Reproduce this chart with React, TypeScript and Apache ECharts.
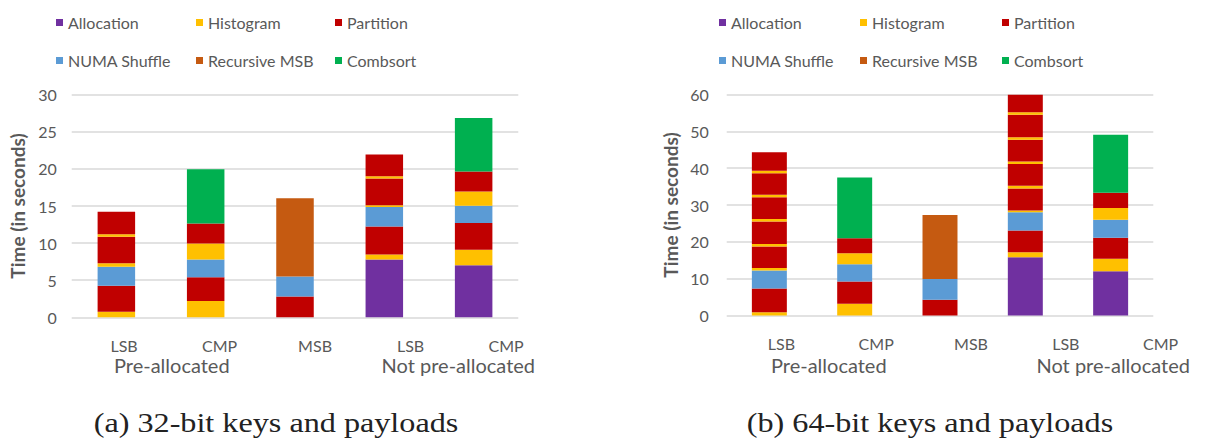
import React, { useEffect, useRef } from "react";
import * as echarts from "echarts";

// Categories and group captions shared by both panels
const categories = ["LSB", "CMP", "MSB", "LSB", "CMP"];
const groups = ["Pre-allocated", "Not pre-allocated"];
const captions = ["(a) 32-bit keys and payloads", "(b) 64-bit keys and payloads"];
const phaseNames = ["Allocation", "Histogram", "Partition", "NUMA Shuffle", "Recursive MSB", "Combsort"];
const yTitle = "Time (in seconds)";

// 32-bit keys and payloads (seconds); histogram/partition arrays are one row per pass
const alloc32 = [0, 0, 0, 7.8, 7.0];
const numa32 = [2.55, 2.4, 2.7, 2.6, 2.33];
const histogram32 = [
  [0.75, 2.2, 0, 0.65, 2.1],
  [0.5, 2.15, 0, 0.25, 1.93],
  [0.35, 0, 0, 0.3, 0],
];
const partition32 = [
  [3.5, 3.2, 2.8, 3.8, 3.6],
  [3.55, 2.7, 0, 3.6, 2.7],
  [3.03, 0, 0, 2.95, 0],
];
const recursive32 = [0, 0, 10.55, 0, 0];
const combsort32 = [0, 7.3, 0, 0, 7.2];

// 64-bit keys and payloads (seconds)
const alloc64 = [0, 0, 0, 15.8, 12.0];
const numa64 = [4.9, 4.7, 5.6, 4.9, 4.9];
const histogram64 = [
  [0.9, 3.2, 0, 1.4, 3.4],
  [0.7, 3.0, 0, 0.5, 3.2],
  [0.7, 0, 0, 0.7, 0],
  [0.7, 0, 0, 0.7, 0],
  [0.7, 0, 0, 0.7, 0],
  [0.7, 0, 0, 0.7, 0],
];
const partition64 = [
  [6.4, 6.0, 4.3, 5.9, 5.7],
  [5.8, 4.1, 0, 6.0, 4.1],
  [6.1, 0, 0, 5.9, 0],
  [5.9, 0, 0, 5.9, 0],
  [5.8, 0, 0, 6.1, 0],
  [5.0, 0, 0, 4.7, 0],
];
const recursive64 = [0, 0, 17.4, 0, 0];
const combsort64 = [0, 16.5, 0, 0, 15.8];

const yTicks32 = { min: 0, max: 30, interval: 5 };
const yTicks64 = { min: 0, max: 60, interval: 10 };

const COLORS: Record<string, string> = {
  Allocation: "#7030A0",
  Histogram: "#FFC000",
  Partition: "#C00000",
  "NUMA Shuffle": "#5B9BD5",
  "Recursive MSB": "#C55A11",
  Combsort: "#00B050",
};

const TEXT = "#595959";
const FONT = 'Lato, "Open Sans", sans-serif';

// Stack order from bottom to top
function buildLayers(
  alloc: number[],
  hist: number[][],
  part: number[][],
  numa: number[],
  rec: number[],
  comb: number[]
) {
  const out: { name: string; data: number[] }[] = [];
  out.push({ name: "Allocation", data: alloc });
  out.push({ name: "Histogram", data: hist[0] });
  out.push({ name: "Partition", data: part[0] });
  out.push({ name: "NUMA Shuffle", data: numa });
  for (let i = 1; i < hist.length; i++) {
    out.push({ name: "Histogram", data: hist[i] });
    out.push({ name: "Partition", data: part[i] });
  }
  out.push({ name: "Recursive MSB", data: rec });
  out.push({ name: "Combsort", data: comb });
  return out;
}

// Panel geometry
const panels = [
  {
    grid: { left: 71.7, width: 446.6, top: 94.7, height: 222.6 },
    labelGrid: { left: 76.3, width: 477.5 },
    legendLeft: [56, 196, 335],
    titleX: 17.5,
    captionX: 276,
    tickMargin: 15,
    barWidth: "42%",
    ticks: yTicks32,
    layers: buildLayers(alloc32, histogram32, partition32, numa32, recursive32, combsort32),
  },
  {
    grid: { left: 726.7, width: 426.6, top: 94.5, height: 221 },
    labelGrid: { left: 734, width: 474 },
    legendLeft: [719, 860, 1002],
    titleX: 670.5,
    captionX: 930,
    tickMargin: 18,
    barWidth: "41%",
    ticks: yTicks64,
    layers: buildLayers(alloc64, histogram64, partition64, numa64, recursive64, combsort64),
  },
];

export default function App() {
  const ref = useRef<HTMLDivElement>(null);

  useEffect(() => {
    if (!ref.current) return;
    const chart = echarts.init(ref.current, undefined, { renderer: "svg" });

    const grids: any[] = [];
    const xAxes: any[] = [];
    const yAxes: any[] = [];
    const series: any[] = [];
    const legends: any[] = [];
    const graphics: any[] = [];

    panels.forEach((p, pi) => {
      grids.push({ ...p.grid });
      xAxes.push({
        gridIndex: pi,
        type: "category",
        data: categories,
        axisLine: { show: false },
        axisTick: { show: false },
        axisLabel: { show: false },
      });
      yAxes.push({
        gridIndex: pi,
        type: "value",
        ...p.ticks,
        axisLine: { show: false },
        axisTick: { show: false },
        axisLabel: { color: TEXT, fontSize: 16, fontFamily: FONT, margin: p.tickMargin },
        splitLine: { lineStyle: { color: "#d9d9d9", width: 1.5 } },
      });
      p.layers.forEach((layer) => {
        series.push({
          type: "bar",
          name: layer.name,
          stack: "total" + pi,
          xAxisIndex: pi,
          yAxisIndex: pi,
          barWidth: p.barWidth,
          data: layer.data.map((v) => (v === 0 ? "-" : v)),
          itemStyle: { color: COLORS[layer.name] },
        });
      });
      // legend: three columns of two entries each
      for (let c = 0; c < 3; c++) {
        legends.push({
          orient: "vertical",
          left: p.legendLeft[c],
          top: 14.5,
          padding: 0,
          itemGap: 22,
          itemWidth: 7,
          itemHeight: 7,
          icon: "rect",
          selectedMode: false,
          data: [phaseNames[c], phaseNames[c + 3]],
          textStyle: { color: TEXT, fontSize: 16, fontFamily: FONT, lineHeight: 16 },
        });
      }
      graphics.push({
        type: "text",
        x: p.titleX,
        y: p.grid.top + p.grid.height / 2,
        rotation: Math.PI / 2,
        style: {
          text: yTitle,
          fill: TEXT,
          font: `bold 19px ${FONT}`,
          textAlign: "center",
          textVerticalAlign: "middle",
        },
      });
      graphics.push({
        type: "text",
        x: p.captionX,
        y: 423,
        scaleX: 1.15,
        style: {
          text: captions[pi],
          fill: "#222",
          font: '28px "Liberation Serif", "DejaVu Serif", serif',
          textAlign: "center",
          textVerticalAlign: "middle",
        },
      });
    });

    // category label axes and group captions
    panels.forEach((p, pi) => {
      const gi = panels.length + pi;
      grids.push({ left: p.labelGrid.left, width: p.labelGrid.width, top: p.grid.top, height: p.grid.height });
      xAxes.push({
        gridIndex: gi,
        type: "category",
        data: categories,
        axisLine: { show: false },
        axisTick: { show: false },
        axisLabel: { color: TEXT, fontSize: 16, lineHeight: 16, fontFamily: FONT, margin: 20 },
      });
      yAxes.push({ gridIndex: gi, type: "value", show: false });
      const step = p.labelGrid.width / categories.length;
      const center = (i: number) => p.labelGrid.left + step * (i + 0.5);
      const groupCenters = [(center(0) + center(1)) / 2, (center(3) + center(4)) / 2];
      groups.forEach((g, k) => {
        graphics.push({
          type: "text",
          x: groupCenters[k],
          y: 364.5,
          style: {
            text: g,
            fill: TEXT,
            font: `20px ${FONT}`,
            textAlign: "center",
            textVerticalAlign: "middle",
          },
        });
      });
    });

    chart.setOption({
      animation: false,
      grid: grids,
      xAxis: xAxes,
      yAxis: yAxes,
      legend: legends,
      series,
      graphic: graphics,
    });

    return () => chart.dispose();
  }, []);

  return (
    <div
      ref={ref}
      style={{ position: "fixed", left: 0, top: 0, width: 1219, height: 441, background: "#fff" }}
    />
  );
}
